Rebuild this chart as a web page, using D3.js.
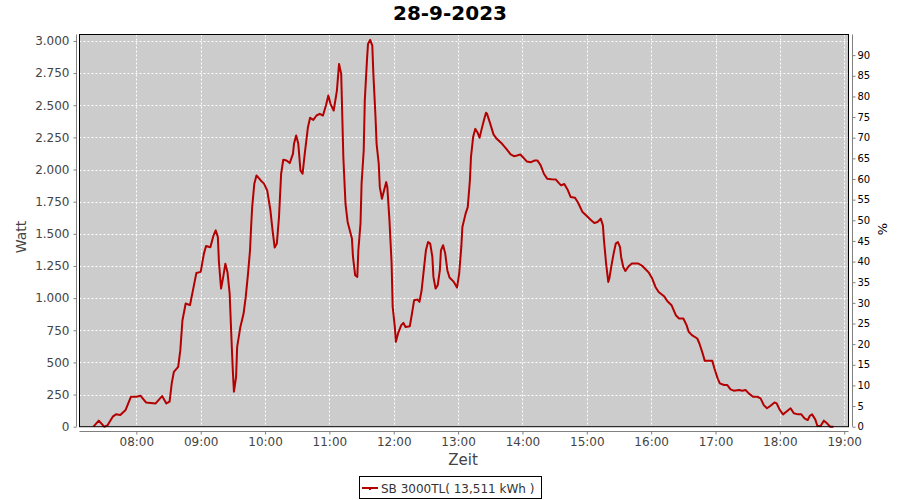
<!DOCTYPE html>
<html><head><meta charset="utf-8">
<script src="https://cdn.jsdelivr.net/npm/d3@7"></script>
<style>body{margin:0;background:#fff}svg{display:block}text{font-family:"DejaVu Sans",sans-serif}</style>
</head><body><svg id="c" width="900" height="500"></svg>
<script>
const title = "28-9-2023";
const seriesName = "SB 3000TL( 13,511 kWh )";
const times = ["07:20","07:25","07:30","07:33","07:38","07:41","07:45","07:50","07:55","08:00","08:04","08:09","08:18","08:24","08:28","08:31","08:33","08:35","08:39","08:41","08:43","08:46","08:50","08:54","08:56","09:00","09:03","09:05","09:09","09:12","09:14","09:16","09:17","09:19","09:21","09:23","09:25","09:27","09:29","09:30","09:31","09:33","09:34","09:37","09:40","09:42","09:44","09:46","09:47","09:48","09:50","09:52","09:56","09:59","10:02","10:05","10:07","10:09","10:11","10:13","10:15","10:17","10:20","10:23","10:26","10:27","10:29","10:31","10:33","10:35","10:37","10:40","10:42","10:45","10:48","10:51","10:54","10:57","10:59","11:01","11:04","11:07","11:09","11:11","11:13","11:15","11:17","11:19","11:21","11:22","11:24","11:26","11:27","11:29","11:30","11:32","11:33","11:35","11:36","11:38","11:40","11:41","11:43","11:44","11:46","11:47","11:49","11:51","11:53","11:54","11:56","11:58","11:59","12:01","12:02","12:04","12:07","12:09","12:11","12:15","12:17","12:19","12:22","12:24","12:26","12:28","12:30","12:32","12:34","12:36","12:37","12:39","12:41","12:43","12:44","12:46","12:48","12:50","12:52","12:56","12:59","13:01","13:03","13:04","13:07","13:09","13:11","13:12","13:14","13:16","13:18","13:20","13:22","13:24","13:26","13:27","13:30","13:33","13:36","13:41","13:45","13:49","13:52","13:55","13:58","14:01","14:04","14:08","14:11","14:14","14:17","14:20","14:23","14:27","14:31","14:34","14:36","14:39","14:42","14:45","14:49","14:52","14:56","15:00","15:04","15:07","15:10","15:13","15:15","15:16","15:18","15:20","15:21","15:23","15:25","15:27","15:29","15:31","15:32","15:34","15:36","15:39","15:42","15:48","15:52","15:55","15:58","16:01","16:04","16:07","16:12","16:15","16:19","16:23","16:26","16:30","16:33","16:35","16:38","16:43","16:45","16:48","16:50","16:54","16:57","16:59","17:02","17:04","17:08","17:11","17:14","17:17","17:22","17:25","17:28","17:31","17:35","17:39","17:42","17:45","17:48","17:51","17:55","17:57","18:00","18:03","18:06","18:10","18:13","18:17","18:20","18:23","18:26","18:28","18:30","18:33","18:35","18:38","18:41","18:44","18:47","18:50"];
const watts = [0,47,0,10,78,96,91,130,233,233,240,189,181,238,181,195,337,427,466,595,828,958,945,1113,1196,1204,1346,1405,1395,1488,1527,1475,1281,1074,1165,1268,1200,1036,621,427,272,388,621,776,880,1009,1178,1372,1553,1708,1890,1954,1915,1890,1838,1683,1527,1393,1424,1630,1967,2076,2070,2050,2122,2200,2265,2200,1993,1967,2122,2329,2402,2386,2420,2433,2420,2505,2575,2511,2459,2614,2821,2744,2096,1734,1592,1527,1463,1320,1178,1165,1372,1579,1890,2148,2537,2847,2977,3008,2963,2744,2407,2200,2045,1863,1773,1838,1902,1863,1605,1269,932,776,660,725,790,807,776,782,880,984,989,971,1061,1217,1372,1436,1424,1320,1165,1074,1100,1217,1372,1411,1346,1215,1160,1126,1082,1191,1398,1553,1657,1708,1915,2096,2252,2316,2290,2247,2316,2381,2441,2433,2355,2273,2239,2200,2161,2117,2104,2109,2117,2091,2063,2057,2070,2070,2032,1967,1929,1925,1923,1894,1877,1887,1845,1786,1781,1740,1669,1638,1605,1584,1592,1618,1566,1450,1269,1126,1152,1255,1346,1424,1436,1397,1320,1242,1211,1248,1269,1269,1248,1222,1196,1152,1087,1048,1015,978,945,867,841,841,790,738,712,686,647,570,512,512,512,453,376,337,324,324,290,280,285,280,285,259,233,233,220,168,143,161,189,181,130,96,116,143,104,96,96,65,52,85,96,57,5,5,47,26,0,0];
const xTickLabels = ["08:00","09:00","10:00","11:00","12:00","13:00","14:00","15:00","16:00","17:00","18:00","19:00"];
const yTicks = [0,250,500,750,1000,1250,1500,1750,2000,2250,2500,2750,3000];
const pctTicks = [0,5,10,15,20,25,30,35,40,45,50,55,60,65,70,75,80,85,90];

const parse = d3.timeParse("%H:%M");
const data = times.map((t,i)=>({t:parse(t), v:watts[i]}));
const de = d3.formatLocale({decimal:",", thousands:".", grouping:[3], currency:["","€"]});
const fmt = de.format(",");

const L=79.5, R=848.5, T=34.5, B=426.7;
const x = d3.scaleTime().domain([parse("07:07"), parse("19:04")]).range([L,R]);
const y = d3.scaleLinear().domain([0,3050]).range([B,T]);
const yP = d3.scaleLinear().domain([0,95]).range([B,T]);
const xTicks = xTickLabels.map(parse);

const svg = d3.select("#c");
svg.append("rect").attr("width",900).attr("height",500).attr("fill","#fff");
svg.append("rect").attr("x",L).attr("y",T).attr("width",R-L).attr("height",B-T).attr("fill","#cccccc");

// grid
const g = svg.append("g").attr("stroke","#fff").attr("stroke-width",1).attr("stroke-dasharray","2,2");
yTicks.forEach(v=>g.append("line").attr("x1",L).attr("x2",R).attr("y1",Math.round(y(v))+0.5).attr("y2",Math.round(y(v))+0.5));
xTicks.forEach(t=>g.append("line").attr("y1",T).attr("y2",B).attr("x1",Math.round(x(t))+0.5).attr("x2",Math.round(x(t))+0.5));

// line
const line = d3.line().x(d=>x(d.t)).y(d=>y(d.v));
svg.append("path").datum(data).attr("d",line).attr("fill","none").attr("stroke","#b40000").attr("stroke-width",2).attr("stroke-linejoin","round");

// frame
svg.append("rect").attr("x",L).attr("y",T).attr("width",R-L).attr("height",B-T).attr("fill","none").attr("stroke","#000").attr("stroke-width",1);

// left axis
const ya = svg.append("g").attr("transform","translate(76.5,0)")
  .call(d3.axisLeft(y).tickValues(yTicks).tickFormat(fmt).tickSize(3).tickPadding(4));
// bottom axis
const xa = svg.append("g").attr("transform","translate(0,431.5)")
  .call(d3.axisBottom(x).tickValues(xTicks).tickFormat(d3.timeFormat("%H:%M")).tickSize(3).tickPadding(3));
// right axis
const pa = svg.append("g").attr("transform","translate(852.5,0)")
  .call(d3.axisRight(yP).tickValues(pctTicks).tickSize(3).tickPadding(2));

[ya,xa].forEach(a=>{
  a.selectAll("path.domain").attr("stroke","#808080");
  a.selectAll(".tick line").attr("stroke","#808080");
  a.selectAll("text").attr("fill","#444").attr("font-size","12px").attr("font-family","DejaVu Sans");
});
ya.select("path.domain").attr("d",`M0,${T}V${B}`);
xa.select("path.domain").attr("d",`M${L},0H${R}`);
pa.selectAll("path.domain").attr("stroke","#808080").attr("d",`M0,${T}V${B}`);
pa.selectAll(".tick line").attr("stroke","#808080");
pa.selectAll("text").attr("fill","#000").attr("font-size","10px").attr("font-family","DejaVu Sans");

// titles
svg.append("text").attr("x",450).attr("y",20).attr("text-anchor","middle").attr("font-size","20px").attr("font-weight","bold").attr("fill","#000").text(title);
svg.append("text").attr("transform","translate(26,237) rotate(-90)").attr("text-anchor","middle").attr("font-size","14px").attr("fill","#444").text("Watt");
svg.append("text").attr("x",463).attr("y",465).attr("text-anchor","middle").attr("font-size","15px").attr("fill","#444").text("Zeit");
svg.append("text").attr("transform","translate(887,229) rotate(-90)").attr("text-anchor","middle").attr("font-size","13px").attr("fill","#000").text("%");

// legend
const lg = svg.append("g");
lg.append("rect").attr("x",359.5).attr("y",476.5).attr("width",182).attr("height",22).attr("fill","#fff").attr("stroke","#000");
lg.append("line").attr("x1",362).attr("x2",378).attr("y1",488).attr("y2",488).attr("stroke","#b40000").attr("stroke-width",2);
lg.append("rect").attr("x",369).attr("y",488).attr("width",2).attr("height",2).attr("fill","#b40000");
lg.append("text").attr("x",381).attr("y",492.5).attr("font-size","12px").attr("fill","#333").text(seriesName);
</script></body></html>
